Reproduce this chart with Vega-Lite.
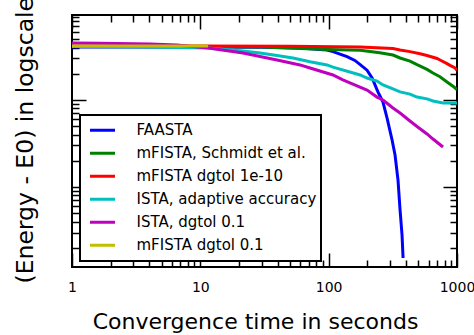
{
  "$schema": "https://vega.github.io/schema/vega-lite/v6.json",
  "width": 385,
  "height": 252,
  "autosize": {"type": "none"},
  "padding": {"left": 72, "top": 15, "right": 17, "bottom": 68},
  "config": {
    "font": "DejaVu Sans",
    "view": {"stroke": "#000", "strokeWidth": 2},
    "axis": {
      "grid": false,
      "domain": false,
      "tickColor": "#000",
      "tickWidth": 1.5,
      "tickSize": -14,
      "tickDash": {"condition": {"test": "abs(log(datum.value)/LN10 - round(log(datum.value)/LN10)) < 1e-6", "value": [14, 0]}, "value": [7, 40]}
    },
    "legend": {"strokeWidth": 2}
  },
  "data": {
    "values": [
      {"m": "FAASTA", "t": 1, "e": 4.07},
      {"m": "FAASTA", "t": 3, "e": 4.07},
      {"m": "FAASTA", "t": 10, "e": 4.07},
      {"m": "FAASTA", "t": 30, "e": 4.05},
      {"m": "FAASTA", "t": 60, "e": 3.96},
      {"m": "FAASTA", "t": 97, "e": 3.75},
      {"m": "FAASTA", "t": 108, "e": 3.6},
      {"m": "FAASTA", "t": 139, "e": 3.15},
      {"m": "FAASTA", "t": 160, "e": 2.85},
      {"m": "FAASTA", "t": 176, "e": 2.55},
      {"m": "FAASTA", "t": 199, "e": 2.2},
      {"m": "FAASTA", "t": 218, "e": 1.79},
      {"m": "FAASTA", "t": 242, "e": 1.24},
      {"m": "FAASTA", "t": 265, "e": 0.948},
      {"m": "FAASTA", "t": 285, "e": 0.621},
      {"m": "FAASTA", "t": 312, "e": 0.347},
      {"m": "FAASTA", "t": 329, "e": 0.233},
      {"m": "FAASTA", "t": 347, "e": 0.12},
      {"m": "FAASTA", "t": 360, "e": 0.0544},
      {"m": "FAASTA", "t": 373, "e": 0.0281},
      {"m": "FAASTA", "t": 380, "e": 0.0153},

      {"m": "mFISTA, Schmidt et al.", "t": 1, "e": 4.15},
      {"m": "mFISTA, Schmidt et al.", "t": 30, "e": 4.07},
      {"m": "mFISTA, Schmidt et al.", "t": 60, "e": 3.9},
      {"m": "mFISTA, Schmidt et al.", "t": 100, "e": 3.8},
      {"m": "mFISTA, Schmidt et al.", "t": 176, "e": 3.72},
      {"m": "mFISTA, Schmidt et al.", "t": 250, "e": 3.5},
      {"m": "mFISTA, Schmidt et al.", "t": 317, "e": 3.29},
      {"m": "mFISTA, Schmidt et al.", "t": 360, "e": 3.04},
      {"m": "mFISTA, Schmidt et al.", "t": 430, "e": 2.8},
      {"m": "mFISTA, Schmidt et al.", "t": 488, "e": 2.55},
      {"m": "mFISTA, Schmidt et al.", "t": 584, "e": 2.25},
      {"m": "mFISTA, Schmidt et al.", "t": 650, "e": 2.04},
      {"m": "mFISTA, Schmidt et al.", "t": 737, "e": 1.85},
      {"m": "mFISTA, Schmidt et al.", "t": 836, "e": 1.61},
      {"m": "mFISTA, Schmidt et al.", "t": 948, "e": 1.41},
      {"m": "mFISTA, Schmidt et al.", "t": 1000, "e": 1.32},

      {"m": "mFISTA dgtol 1e-10", "t": 1, "e": 4.18},
      {"m": "mFISTA dgtol 1e-10", "t": 10, "e": 4.18},
      {"m": "mFISTA dgtol 1e-10", "t": 50, "e": 4.15},
      {"m": "mFISTA dgtol 1e-10", "t": 176, "e": 4.07},
      {"m": "mFISTA dgtol 1e-10", "t": 317, "e": 3.9},
      {"m": "mFISTA dgtol 1e-10", "t": 360, "e": 3.75},
      {"m": "mFISTA dgtol 1e-10", "t": 430, "e": 3.6},
      {"m": "mFISTA dgtol 1e-10", "t": 515, "e": 3.4},
      {"m": "mFISTA dgtol 1e-10", "t": 584, "e": 3.25},
      {"m": "mFISTA dgtol 1e-10", "t": 699, "e": 3.0},
      {"m": "mFISTA dgtol 1e-10", "t": 737, "e": 2.88},
      {"m": "mFISTA dgtol 1e-10", "t": 836, "e": 2.62},
      {"m": "mFISTA dgtol 1e-10", "t": 883, "e": 2.5},
      {"m": "mFISTA dgtol 1e-10", "t": 966, "e": 2.33},
      {"m": "mFISTA dgtol 1e-10", "t": 1000, "e": 2.2},

      {"m": "ISTA, adaptive accuracy", "t": 1, "e": 4.12},
      {"m": "ISTA, adaptive accuracy", "t": 4, "e": 4.07},
      {"m": "ISTA, adaptive accuracy", "t": 11.5, "e": 3.96},
      {"m": "ISTA, adaptive accuracy", "t": 21.5, "e": 3.65},
      {"m": "ISTA, adaptive accuracy", "t": 29.2, "e": 3.47},
      {"m": "ISTA, adaptive accuracy", "t": 39.6, "e": 3.25},
      {"m": "ISTA, adaptive accuracy", "t": 52.7, "e": 3.04},
      {"m": "ISTA, adaptive accuracy", "t": 71.6, "e": 2.75},
      {"m": "ISTA, adaptive accuracy", "t": 97, "e": 2.53},
      {"m": "ISTA, adaptive accuracy", "t": 108, "e": 2.39},
      {"m": "ISTA, adaptive accuracy", "t": 176, "e": 1.94},
      {"m": "ISTA, adaptive accuracy", "t": 199, "e": 1.79},
      {"m": "ISTA, adaptive accuracy", "t": 238, "e": 1.65},
      {"m": "ISTA, adaptive accuracy", "t": 265, "e": 1.49},
      {"m": "ISTA, adaptive accuracy", "t": 317, "e": 1.34},
      {"m": "ISTA, adaptive accuracy", "t": 360, "e": 1.24},
      {"m": "ISTA, adaptive accuracy", "t": 430, "e": 1.17},
      {"m": "ISTA, adaptive accuracy", "t": 488, "e": 1.08},
      {"m": "ISTA, adaptive accuracy", "t": 584, "e": 1.03},
      {"m": "ISTA, adaptive accuracy", "t": 650, "e": 0.974},
      {"m": "ISTA, adaptive accuracy", "t": 778, "e": 0.924},
      {"m": "ISTA, adaptive accuracy", "t": 1000, "e": 0.924},

      {"m": "ISTA, dgtol 0.1", "t": 1, "e": 4.52},
      {"m": "ISTA, dgtol 0.1", "t": 1.65, "e": 4.5},
      {"m": "ISTA, dgtol 0.1", "t": 4.05, "e": 4.4},
      {"m": "ISTA, dgtol 0.1", "t": 6.58, "e": 4.29},
      {"m": "ISTA, dgtol 0.1", "t": 11.5, "e": 3.96},
      {"m": "ISTA, dgtol 0.1", "t": 21.5, "e": 3.47},
      {"m": "ISTA, dgtol 0.1", "t": 39.6, "e": 2.88},
      {"m": "ISTA, dgtol 0.1", "t": 59.8, "e": 2.53},
      {"m": "ISTA, dgtol 0.1", "t": 71.6, "e": 2.33},
      {"m": "ISTA, dgtol 0.1", "t": 108, "e": 1.94},
      {"m": "ISTA, dgtol 0.1", "t": 129, "e": 1.7},
      {"m": "ISTA, dgtol 0.1", "t": 199, "e": 1.3},
      {"m": "ISTA, dgtol 0.1", "t": 238, "e": 1.08},
      {"m": "ISTA, dgtol 0.1", "t": 265, "e": 1.0},
      {"m": "ISTA, dgtol 0.1", "t": 317, "e": 0.809},
      {"m": "ISTA, dgtol 0.1", "t": 360, "e": 0.709},
      {"m": "ISTA, dgtol 0.1", "t": 430, "e": 0.574},
      {"m": "ISTA, dgtol 0.1", "t": 488, "e": 0.496},
      {"m": "ISTA, dgtol 0.1", "t": 584, "e": 0.407},
      {"m": "ISTA, dgtol 0.1", "t": 650, "e": 0.356},
      {"m": "ISTA, dgtol 0.1", "t": 778, "e": 0.288},

      {"m": "mFISTA dgtol 0.1", "t": 1, "e": 4.18},
      {"m": "mFISTA dgtol 0.1", "t": 11.5, "e": 4.18}
    ]
  },
  "layer": [
    {
      "mark": {"type": "line", "strokeWidth": 3, "clip": true},
      "encoding": {
        "x": {
          "field": "t",
          "type": "quantitative",
          "scale": {"type": "log", "domain": [1, 1000]},
          "axis": {
            "orient": "bottom",
            "values": [1, 2, 3, 4, 5, 6, 7, 8, 9, 10, 20, 30, 40, 50, 60, 70, 80, 90, 100, 200, 300, 400, 500, 600, 700, 800, 900, 1000],
            "labelExpr": "abs(log(datum.value)/LN10 - round(log(datum.value)/LN10)) < 1e-6 ? format(datum.value, 'd') : ''",
            "labelOverlap": false,
            "labelFlush": false,
            "labelFontSize": 14,
            "labelColor": "#000",
            "labelPadding": 27,
            "title": "Convergence time in seconds",
            "titleFontSize": 22,
            "titleFontWeight": "normal",
            "titleColor": "#000",
            "titleX": 183,
            "titleY": 61,
            "titleAlign": "center",
            "titleBaseline": "alphabetic"
          }
        },
        "y": {
          "field": "e",
          "type": "quantitative",
          "scale": {"type": "log", "domain": [0.01204, 9.484]},
          "axis": {
            "orient": "left",
            "values": [0.02, 0.03, 0.04, 0.05, 0.06, 0.07, 0.08, 0.09, 0.1, 0.2, 0.3, 0.4, 0.5, 0.6, 0.7, 0.8, 0.9, 1, 2, 3, 4, 5, 6, 7, 8, 9],
            "labels": false,
            "title": "(Energy - E0) in logscale",
            "titleFontSize": 23.5,
            "titleFontWeight": "normal",
            "titleColor": "#000",
            "titleAngle": -90,
            "titleAlign": "left",
            "titleBaseline": "middle",
            "titleX": -47,
            "titleY": 268
          }
        },
        "color": {
          "field": "m",
          "type": "nominal",
          "sort": null,
          "scale": {
            "domain": ["FAASTA", "mFISTA, Schmidt et al.", "mFISTA dgtol 1e-10", "ISTA, adaptive accuracy", "ISTA, dgtol 0.1", "mFISTA dgtol 0.1"],
            "range": ["#0000ff", "#008000", "#ff0000", "#00bfbf", "#bf00bf", "#bfbf00"]
          },
          "legend": {
            "orient": "none",
            "legendX": 8,
            "legendY": 100,
            "title": null,
            "padding": 4,
            "strokeColor": "#000",
            "fillColor": "#fff",
            "symbolType": "stroke",
            "symbolSize": 625,
            "symbolStrokeWidth": 3,
            "symbolOffset": 4.5,
            "labelOffset": 20,
            "labelFontSize": 15,
            "labelColor": "#000",
            "labelLimit": 300,
            "clipHeight": 22.6,
            "rowPadding": 0
          }
        }
      }
    },
    {
      "mark": {"type": "point", "opacity": 0},
      "encoding": {
        "x": {
          "field": "t",
          "type": "quantitative",
          "scale": {"type": "log", "domain": [1, 1000]},
          "axis": {
            "orient": "top",
            "values": [1, 2, 3, 4, 5, 6, 7, 8, 9, 10, 20, 30, 40, 50, 60, 70, 80, 90, 100, 200, 300, 400, 500, 600, 700, 800, 900, 1000],
            "labels": false,
            "title": null
          }
        },
        "y": {
          "field": "e",
          "type": "quantitative",
          "scale": {"type": "log", "domain": [0.01204, 9.484]},
          "axis": {
            "orient": "right",
            "values": [0.02, 0.03, 0.04, 0.05, 0.06, 0.07, 0.08, 0.09, 0.1, 0.2, 0.3, 0.4, 0.5, 0.6, 0.7, 0.8, 0.9, 1, 2, 3, 4, 5, 6, 7, 8, 9],
            "labels": false,
            "title": null
          }
        }
      }
    }
  ],
  "resolve": {"axis": {"x": "independent", "y": "independent"}}
}
